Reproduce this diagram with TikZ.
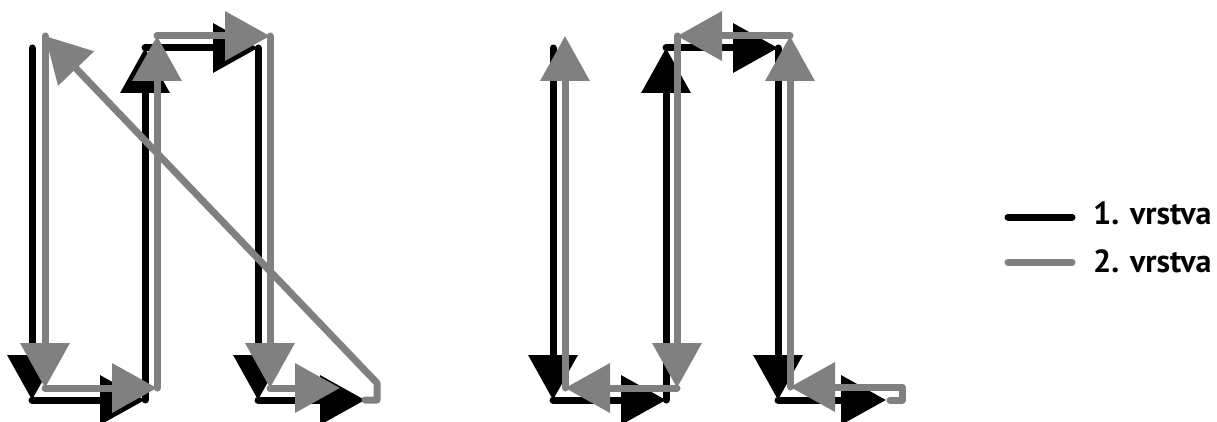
\documentclass[tikz,border=0pt]{standalone}
\usepackage{fontspec}
\setmainfont{PT Sans}
\usetikzlibrary{arrows.meta}
\definecolor{layergray}{RGB}{128,128,128}
\tikzset{
  lay1/.style={line width=7pt, black, line cap=round, line join=round},
  lay2/.style={line width=7pt, layergray, line cap=round, line join=round},
  arrowend/.style={-{Triangle[length=45pt,width=48pt]}},
  legtext/.style={anchor=base west, inner sep=0pt, font=\fontsize{32}{36}\selectfont\bfseries}
}
\begin{document}
\begin{tikzpicture}[x=1pt,y=-1pt]
\useasboundingbox (0,0) rectangle (1217,422);
% ---- left figure, layer 1
\coordinate (a1) at (32,48);
\coordinate (a2) at (32,400);
\coordinate (a3) at (145,400);
\coordinate (a4) at (145,48);
\coordinate (a5) at (258,48);
\coordinate (a6) at (258,400);
\coordinate (a7) at (365,400);
% ---- left figure, layer 2
\coordinate (c1) at (45,36);
\coordinate (c2) at (45,388);
\coordinate (c3) at (157,388);
\coordinate (c4) at (157,36);
\coordinate (c5) at (270,36);
\coordinate (c6) at (270,388);
\coordinate (c7) at (340,388);
\coordinate (t1) at (377,400);
\coordinate (t2) at (377,383);
% ---- right figure, layer 1
\coordinate (d1) at (553,48);
\coordinate (d2) at (553,400);
\coordinate (d3) at (666,400);
\coordinate (d4) at (666,48);
\coordinate (d5) at (778,48);
\coordinate (d6) at (778,400);
\coordinate (d7) at (886,400);
% ---- right figure, layer 2
\coordinate (e0) at (890,400);
\coordinate (u1) at (902,400);
\coordinate (u2) at (902,387);
\coordinate (e1) at (790,387);
\coordinate (e2) at (790,36);
\coordinate (e3) at (677,36);
\coordinate (e4) at (677,388);
\coordinate (e5) at (565,388);
\coordinate (e6) at (565,36);

% layer 1 (black)
\draw[lay1,arrowend] (a1) -- (a2);
\draw[lay1,arrowend] (a2) -- (a3);
\draw[lay1,arrowend] (a3) -- (a4);
\draw[lay1,arrowend] (a4) -- (a5);
\draw[lay1,arrowend] (a5) -- (a6);
\draw[lay1,arrowend] (a6) -- (a7);
\draw[lay1,arrowend] (d1) -- (d2);
\draw[lay1,arrowend] (d2) -- (d3);
\draw[lay1,arrowend] (d3) -- (d4);
\draw[lay1,arrowend] (d4) -- (d5);
\draw[lay1,arrowend] (d5) -- (d6);
\draw[lay1,arrowend] (d6) -- (d7);

% layer 2 (gray)
\draw[lay2,arrowend] (a7) -- (t1) -- (t2) -- (c1);
\draw[lay2,arrowend] (c1) -- (c2);
\draw[lay2,arrowend] (c2) -- (c3);
\draw[lay2,arrowend] (c3) -- (c4);
\draw[lay2,arrowend] (c4) -- (c5);
\draw[lay2,arrowend] (c5) -- (c6);
\draw[lay2,arrowend] (c6) -- (c7);
\draw[lay2,arrowend] (e0) -- (u1) -- (u2) -- (e1);
\draw[lay2,arrowend] (e1) -- (e2);
\draw[lay2,arrowend] (e2) -- (e3);
\draw[lay2,arrowend] (e3) -- (e4);
\draw[lay2,arrowend] (e4) -- (e5);
\draw[lay2,arrowend] (e5) -- (e6);

% legend
\coordinate (k1a) at (1008,217);
\coordinate (k1b) at (1072,217);
\coordinate (k2a) at (1008,262);
\coordinate (k2b) at (1072,262);
\draw[lay1] (k1a) -- (k1b);
\draw[lay2] (k2a) -- (k2b);
\node[legtext] (leg1) at (1093,224) {1. vrstva};
\node[legtext] (leg2) at (1093,272) {2. vrstva};
\end{tikzpicture}
\end{document}
